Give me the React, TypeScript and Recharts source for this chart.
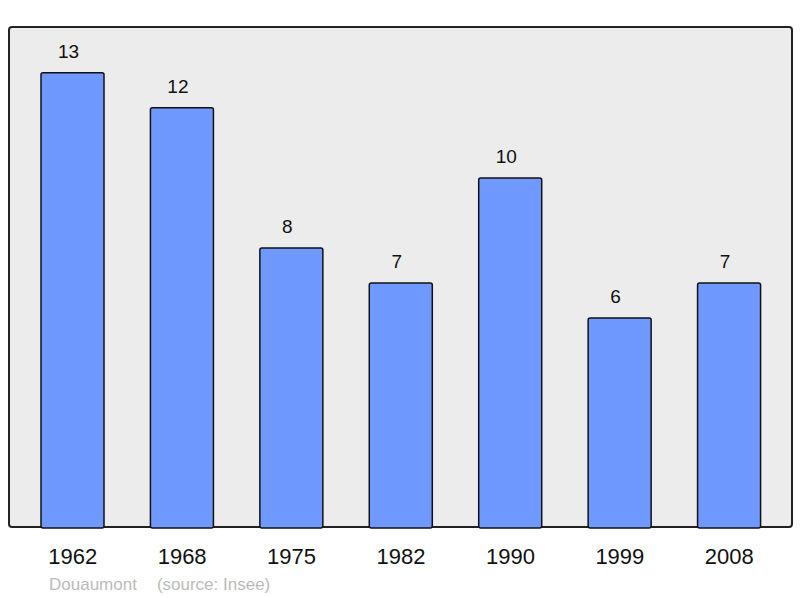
import { BarChart, Bar, XAxis, YAxis, LabelList } from 'recharts'

const years = ['1962', '1968', '1975', '1982', '1990', '1999', '2008']
const population = [13, 12, 8, 7, 10, 6, 7]

const data = years.map((year, i) => ({ year, value: population[i] }))

const font = '"Liberation Sans", Arial, sans-serif'

export default function App() {
  return (
    <div style={{ position: 'absolute', left: 0, top: 0, width: 800, height: 598, background: '#fff', fontFamily: font }}>
      {/* plot frame */}
      <div
        style={{
          position: 'absolute',
          left: 8,
          top: 26,
          width: 781,
          height: 498,
          border: '2px solid #222',
          borderRadius: 4,
          background: '#ececec',
        }}
      />
      <div style={{ position: 'absolute', left: 0, top: 0 }}>
        <BarChart width={800} height={598} data={data} margin={{ top: 27, right: 7, left: 9, bottom: 40 }}>
          <XAxis
            dataKey="year"
            height={30}
            axisLine={false}
            tickLine={false}
            tickSize={0}
            tickMargin={20}
            padding={{ left: 9, right: 9 }}
            tick={{ fill: '#111', fontSize: 22, fontFamily: font }}
          />
          <YAxis hide domain={[0, 14.31]} />
          <Bar
            dataKey="value"
            fill="#7099ff"
            stroke="#111"
            strokeWidth={1.5}
            barSize={63}
            radius={2}
            isAnimationActive={false}
          >
            <LabelList dataKey="value" position="top" offset={15} dx={-4} fill="#111" fontSize={19} fontFamily={font} />
          </Bar>
        </BarChart>
      </div>
      <div style={{ position: 'absolute', left: 49, top: 575, fontSize: 17, color: '#bbb', whiteSpace: 'pre' }}>
        <span>Douaumont</span>
        <span style={{ marginLeft: 20 }}>(source: Insee)</span>
      </div>
    </div>
  )
}
